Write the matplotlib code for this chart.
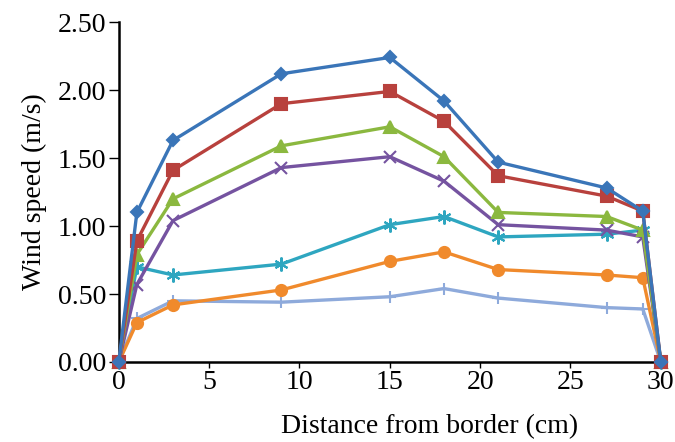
import matplotlib
matplotlib.use("Agg")
import matplotlib.pyplot as plt

plt.rcParams['font.family'] = ['Liberation Serif', 'DejaVu Serif']

# distance from border (cm)
distance = [0, 1, 3, 9, 15, 18, 21, 27, 29, 30]

# wind speed series (m/s)
s_diamond = [0, 1.10, 1.63, 2.12, 2.24, 1.92, 1.47, 1.28, 1.11, 0]
s_square = [0, 0.89, 1.41, 1.90, 1.99, 1.77, 1.37, 1.22, 1.11, 0]
s_triangle = [0, 0.79, 1.20, 1.59, 1.73, 1.51, 1.10, 1.07, 0.97, 0]
s_cross = [0, 0.57, 1.04, 1.43, 1.51, 1.33, 1.01, 0.97, 0.92, 0]
s_star = [0, 0.70, 0.64, 0.72, 1.01, 1.07, 0.92, 0.94, 0.97, 0]
s_circle = [0, 0.29, 0.42, 0.53, 0.74, 0.81, 0.68, 0.64, 0.62, 0]
s_plus = [0, 0.32, 0.45, 0.44, 0.48, 0.54, 0.47, 0.40, 0.39, 0]

xticks = [0, 5, 10, 15, 20, 25, 30]
yticks = [0, 0.5, 1.0, 1.5, 2.0, 2.5]

series = [
    (s_plus, '#8eaadb', '+', 9),
    (s_circle, '#f08a2c', 'o', 8),
    (s_star, '#2ea6c0', (6, 2, 0), 10),
    (s_cross, '#7553a0', 'x', 8),
    (s_triangle, '#8bb83f', '^', 9),
    (s_square, '#b8413d', 's', 8),
    (s_diamond, '#3a75b8', 'D', 6),
]

fig = plt.figure(figsize=(6.75, 4.42), dpi=100)
ax = fig.add_axes([0.176, 0.181, 0.803, 0.769])

for y, c, m, ms in series:
    ax.plot(distance, y, color=c, lw=2.4, marker=m, ms=ms, mew=1.5,
            mfc=c, mec=c, clip_on=False, zorder=3)

ax.set_xlim(0, 30)
ax.set_ylim(0, 2.5)
ax.set_xticks(xticks)
ax.set_yticks(yticks)
ax.set_yticklabels(['{:.2f}'.format(v) for v in yticks])
ax.spines['top'].set_visible(False)
ax.spines['right'].set_visible(False)
ax.spines['left'].set_linewidth(1.8)
ax.spines['bottom'].set_linewidth(1.8)
ax.tick_params(labelsize=20, direction='out', length=7, width=1, pad=2)
ax.tick_params(axis='x', length=4)
ax.set_ylabel('Wind speed (m/s)', fontsize=20, labelpad=8)
# x label sits right of the axes centre in the original
fig.text(430 / 675, 1 - 427 / 442, 'Distance from border (cm)', fontsize=20,
         ha='center', va='center')

plt.savefig('out.png', dpi=100)
